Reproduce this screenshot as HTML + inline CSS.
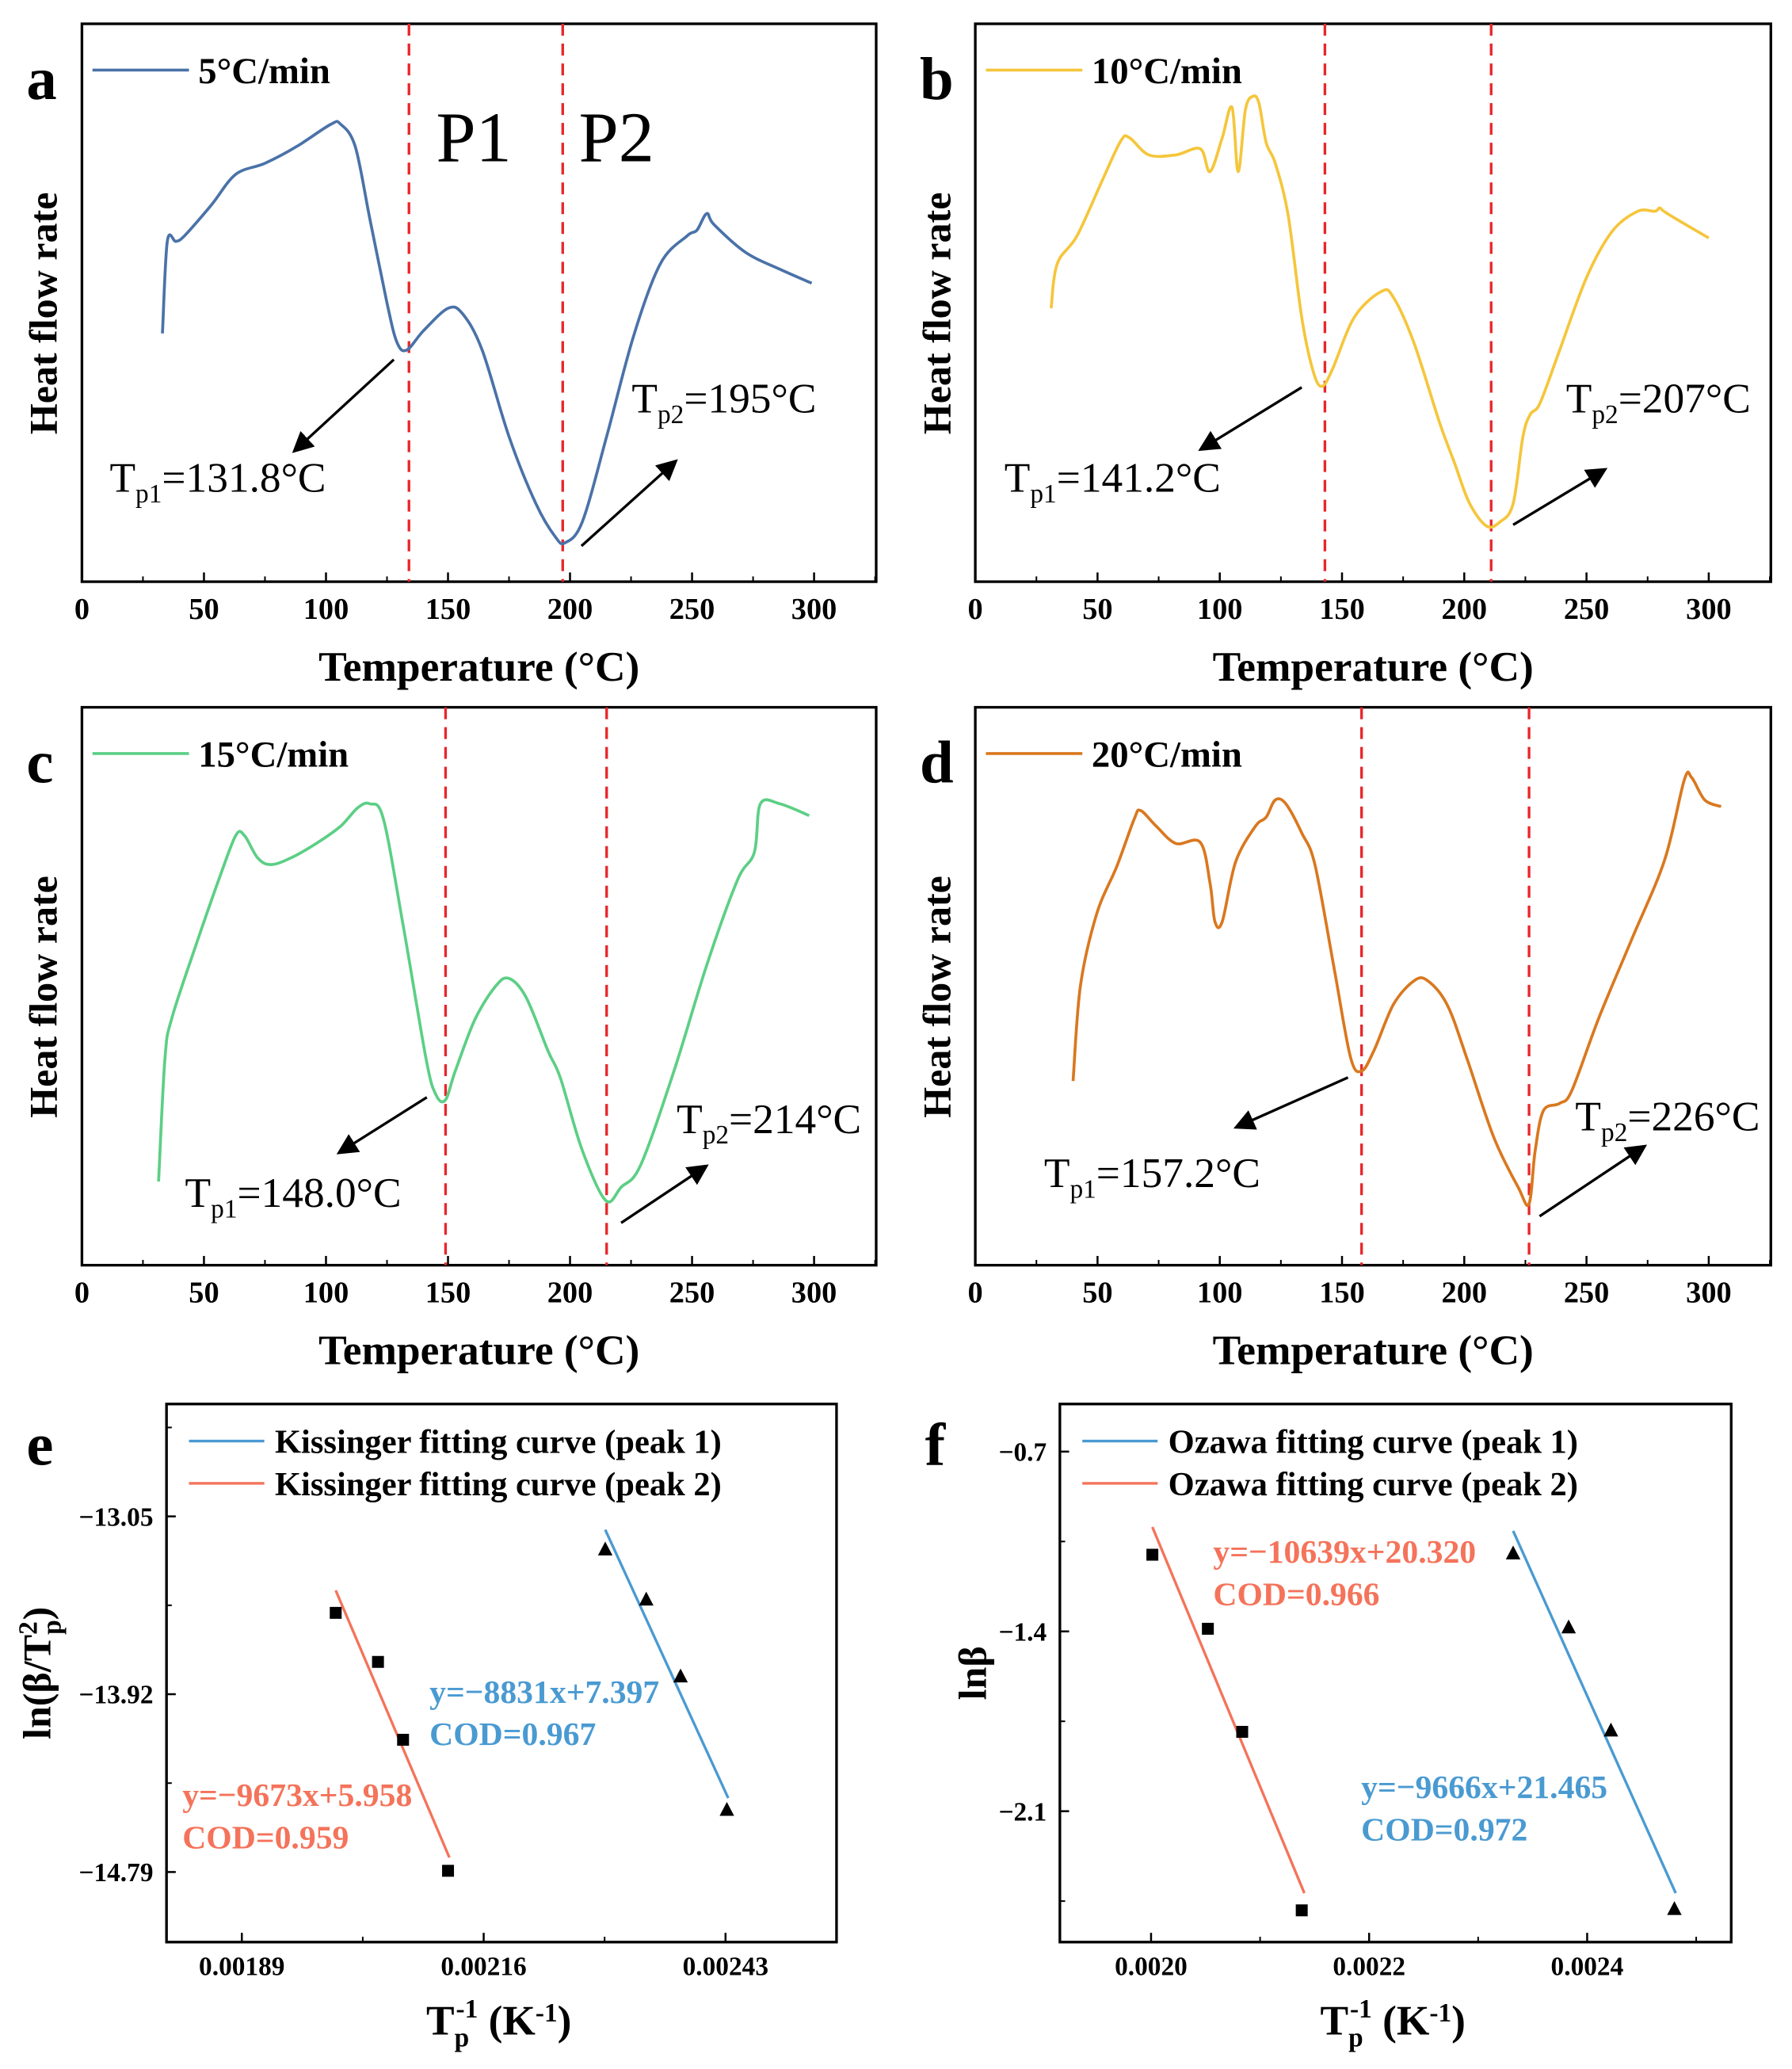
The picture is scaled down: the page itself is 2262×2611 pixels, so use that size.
<!DOCTYPE html>
<html><head><meta charset="utf-8"><style>
html,body{margin:0;padding:0;background:#fff;}
svg{display:block;font-family:"Liberation Serif",serif;}
</style></head><body>
<svg id="fig" width="2262" height="2611" viewBox="0 0 1356 1565" preserveAspectRatio="none" xmlns="http://www.w3.org/2000/svg"></svg>
<script>
// ---- DSC data (temperature °C, heat flow arbitrary 0-100) ----
const aT=[33,35,38.5,42,53,63,75,88,102,106,112,118,125,129,133,140,150,156,164,175,186,194,198,205,215,226,237,248,252,256,259,272,286,299];
const aV=[44.5,61,61,62,67.5,73,75,78,82,82,78,65,50,43,41.5,45,49,48,41.5,26,14,8,7,10.7,26,44,57,62,63,66,64,59,56,53.5];
const bT=[31,33.5,41.6,52,59.5,63,71,82,92,96,101,105,107.5,110.5,113.5,116,119,122.7,128,133.5,138,141.6,146,155,166,171,179.5,190,196,202,209,214.6,220,224,227,231,239,250,260.5,271,278,280,283,300];
const bV=[49,57,62,72,79,79.6,76.5,76.5,77.6,73.5,79.6,85,73.5,84.6,87,85.8,78.7,75,65.6,47.4,38,35,38,47.4,52,51,42.7,28.4,21.3,14.2,10,10.7,14,26,30,32,41.5,54.5,62.8,66.4,66.4,67,66,61.6];
const cT=[31.4,34,37,47.6,56,63,66.6,72,77.4,85.6,96,106,113,118,123.5,131.6,141,145,148.9,153,161,169.5,175,182,191,196,205,214.6,221,229,242.6,256,268.6,275.5,278,286,298];
const cV=[15,37,44.5,58.5,69,77,77,73,71.8,73,75.6,78.7,82,82.7,80,61,37,30.6,29.6,34.8,44,50,51.4,48,38.4,33.6,20.6,11.6,14,18,34.8,53.8,69,74,82.7,82.7,80.6];
const dT=[40,43,49.7,58,65,67.6,74,82,92,96,98,101,106.5,114.6,119,122.7,127,133.5,139,147,153.5,158,163,171,179.5,185,193,201,212,222,226.5,229,232.4,239,244,255,268.6,282,290,293,298.4,305];
const dV=[33,50,63,71.6,80,81.5,78.7,75.6,75.8,68.5,61.6,61.6,72.3,78.7,80.3,83.4,82.7,77.5,71.6,52.6,37.2,34.8,38.4,46.7,51,51,46.7,37.2,23,14,11,20.6,27.7,29,31.3,44.3,58.5,72.7,87,87.4,83.4,82.2];
const tempTicks=[0,50,100,150,200,250,300];
const peaks={a:[134,197],b:[143,211],c:[149,215],d:[158,226.5]};
// ---- Kissinger (e) ----
const eX2=[0.0019948,0.0020420,0.0020700,0.0021202];
const eY2=[-13.522,-13.762,-14.143,-14.784];
const eX1=[0.0022957,0.0023415,0.0023798,0.0024315];
const eY1=[-13.212,-13.457,-13.833,-14.486];
const eFitX2=[0.0019948,0.0021217], eFitY2=[-13.412,-14.719];
const eFitX1=[0.0022957,0.0024330], eFitY1=[-13.115,-14.428];
const eXTicks=["0.00189","0.00216","0.00243"];
const eYTicks=["−13.05","−13.92","−14.79"];
// ---- Ozawa (f) ----
const fX2=[0.0020012,0.0020521,0.0020836,0.0021382];
const fY2=[-1.1015,-1.3897,-1.791,-2.486];
const fX1=[0.0023321,0.002383,0.0024218,0.00248];
const fY1=[-1.0963,-1.3846,-1.786,-2.481];
const fFitX2=[0.0020012,0.0021406], fFitY2=[-0.9934,-2.419];
const fFitX1=[0.0023321,0.0024812], fFitY1=[-1.0088,-2.419];
const fXTicks=["0.0020","0.0022","0.0024"];
const fYTicks=["−0.7","−1.4","−2.1"];

const NS="http://www.w3.org/2000/svg";
const svg=document.getElementById('fig');
function mk(tag,attrs,parent){const e=document.createElementNS(NS,tag);for(const k in attrs)e.setAttribute(k,attrs[k]);(parent||svg).appendChild(e);return e;}
function txt(x,y,s,size,extra,parent){const e=mk('text',Object.assign({x:x,y:y,'font-size':size,'font-weight':'bold',fill:'#000'},extra||{}),parent);e.innerHTML=s;return e;}
function smooth(P){
  let d='M'+P[0][0].toFixed(1)+','+P[0][1].toFixed(1);
  for(let i=0;i<P.length-1;i++){
    const p0=P[Math.max(0,i-1)],p1=P[i],p2=P[i+1],p3=P[Math.min(P.length-1,i+2)];
    const c1=[p1[0]+(p2[0]-p0[0])/6,p1[1]+(p2[1]-p0[1])/6];
    const c2=[p2[0]-(p3[0]-p1[0])/6,p2[1]-(p3[1]-p1[1])/6];
    d+='C'+c1[0].toFixed(1)+','+c1[1].toFixed(1)+' '+c2[0].toFixed(1)+','+c2[1].toFixed(1)+' '+p2[0].toFixed(1)+','+p2[1].toFixed(1);
  }
  return d;
}

function dscPanel(key,L,R,T,B,x0,pxPerDeg,Tarr,Varr,color,legend,p1lab,p2lab,arr1,arr2,lab1,lab2,letter){
  const g=mk('g',{});
  
  
  const xs=t=>x0+t*pxPerDeg;
  const ys=v=>B-v*(B-T)/100;
  const box=mk('rect',{x:L,y:T,width:R-L,height:B-T,fill:'none',stroke:'#000','stroke-width':2},g);
  
  
  tempTicks.forEach((t,i)=>{
    const tk=mk('line',{x1:xs(t),x2:xs(t),y1:B,y2:B-7,stroke:'#000','stroke-width':1.5},g);
    
    
    const mt=mk('line',{x1:xs(t+25),x2:xs(t+25),y1:B,y2:B-4,stroke:'#000','stroke-width':1.2},g);
    
    
    const tl=txt(xs(t),B+28,String(t),23,{'text-anchor':'middle'},g);
    
    
  });
  const xt=txt((L+R)/2,B+75,'Temperature (°C)',32,{'text-anchor':'middle'},g);
  
  
  const yt=txt(0,0,'Heat flow rate',30,{'text-anchor':'middle',transform:`translate(${L-19},${(T+B)/2+8}) rotate(-90)`},g);
  
  
  const lt=txt(L-42,T+57,letter,46,{},g);
  
  
  peaks[key].forEach(p=>{
    const dl=mk('line',{x1:xs(p),x2:xs(p),y1:T,y2:B,stroke:'#e8262a','stroke-width':2,'stroke-dasharray':'9,6'},g);
    
    
  });
  const P=Tarr.map((t,i)=>[xs(t),ys(Varr[i])]);
  const path=mk('path',{d:smooth(P),fill:'none',stroke:color,'stroke-width':2.2,'stroke-linejoin':'round'},g);
  
  
  const ll=mk('line',{x1:L+8,x2:L+81,y1:T+35,y2:T+35,stroke:color,'stroke-width':2.2},g);
  
  
  const lx=txt(L+88,T+45,legend,28,{},g);
  
  
  [arr1,arr2].forEach(a=>{
    const ar=mk('line',{x1:a[0],y1:a[1],x2:a[2],y2:a[3],stroke:'#000','stroke-width':2,'marker-end':'url(#ah)'},g);
    
    
  });
  const t1=txt(lab1[0],lab1[1],'T<tspan font-size="20" dy="8">p1</tspan><tspan dy="-8">='+p1lab+'</tspan>',32,{'font-weight':'normal'},g);
  
  
  const t2=txt(lab2[0],lab2[1],'T<tspan font-size="20" dy="8">p2</tspan><tspan dy="-8">='+p2lab+'</tspan>',32,{'font-weight':'normal'},g);
  
  
  return g;
}
const defs=mk('defs',{});
const mkr=mk('marker',{id:'ah',markerWidth:8,markerHeight:8,refX:6,refY:4,orient:'auto',markerUnits:'strokeWidth'},defs);
mk('path',{d:'M0,0 L8,4 L0,8 z',fill:'#000'},mkr);

const ga=dscPanel('a',62,663,18,440,62,1.8467,aT,aV,'#4a72a8','5°C/min','131.8°C','195°C',[298,272,224,340],[440,413,510,350],[83,372],[478,312],'a');
const P1=txt(330,122,'P1',54,{'font-weight':'normal'},ga);


const P2=txt(438,122,'P2',54,{'font-weight':'normal'},ga);


dscPanel('b',738,1340,18,440,738,1.85,bT,bV,'#f5c63c','10°C/min','141.2°C','207°C',[985,293,910,339],[1145,397,1213,356],[760,372],[1185,312],'b');
dscPanel('c',62,663,535,957,62,1.8467,cT,cV,'#5ccf85','15°C/min','148.0°C','214°C',[323,830,258,871],[470,925,533,883],[140,913],[512,857],'c');
dscPanel('d',738,1340,535,957,738,1.85,dT,dV,'#d9781f','20°C/min','157.2°C','226°C',[1020,815,937,852],[1165,920,1243,868],[790,898],[1192,855],'d');

function fitPanel(key,L,R,T,B,xv0,xp0,xpPer,xvStep,yv0,yp0,ypPer,yvStep,xTicks,yTicks,X1,Y1,X2,Y2,FX1,FY1,FX2,FY2,leg1,leg2,eqs,letter,ylabel){
  const g=mk('g',{});
  
  
  const xs=v=>xp0+(v-xv0)/xvStep*xpPer;
  const ys=v=>yp0+(yv0-v)/yvStep*ypPer;
  const box=mk('rect',{x:L,y:T,width:R-L,height:B-T,fill:'none',stroke:'#000','stroke-width':2},g);
  
  
  for(let i=-1;i<=3;i++){
    const xm=xp0+i*xpPer, xh=xm+xpPer/2;
    if(xm>L&&xm<R){const tk=mk('line',{x1:xm,x2:xm,y1:B,y2:B-7,stroke:'#000','stroke-width':1.5},g);
      
      }
    if(xh>L&&xh<R){const mt=mk('line',{x1:xh,x2:xh,y1:B,y2:B-4,stroke:'#000','stroke-width':1.2},g);
      
      }
    const ym=yp0+i*ypPer, yh=ym+ypPer/2;
    if(ym>T&&ym<B){const tk=mk('line',{x1:L,x2:L+7,y1:ym,y2:ym,stroke:'#000','stroke-width':1.5},g);
      
      }
    if(yh>T&&yh<B){const mt=mk('line',{x1:L,x2:L+4,y1:yh,y2:yh,stroke:'#000','stroke-width':1.2},g);
      
      }
  }
  xTicks.forEach((s,i)=>{const tl=txt(xp0+i*xpPer,B+25,s,20,{'text-anchor':'middle'},g);
    
    });
  yTicks.forEach((s,i)=>{const tl=txt(L-10,yp0+i*ypPer+7,s,20,{'text-anchor':'end'},g);
    
    });
  const xt=txt((L+R)/2-2,B+70,'T<tspan font-size="20" dy="9">p</tspan><tspan font-size="20" dx="-10" dy="-22">-1</tspan><tspan dy="13"> (K</tspan><tspan font-size="20" dy="-10">-1</tspan><tspan dy="10">)</tspan>',32,{'text-anchor':'middle'},g);
  
  
  const yt=txt(0,0,ylabel,30,{'text-anchor':'middle',transform:`translate(${L-(key==='e'?88:56)},${(T+B)/2}) rotate(-90)`},g);
  
  
  const lt=txt(key==='e'?20:700,1108,letter,46,{},g);
  
  
  const fits=[[FX1,FY1,'#4a9ad2'],[FX2,FY2,'#f4735a']];
  fits.forEach(f=>{const fl=mk('line',{x1:xs(f[0][0]),y1:ys(f[1][0]),x2:xs(f[0][1]),y2:ys(f[1][1]),stroke:f[2],'stroke-width':2},g);
    
    });
  X2.forEach((x,i)=>{const sq=mk('rect',{x:xs(x)-4.5,y:ys(Y2[i])-4.5,width:9,height:9,fill:'#000'},g);
    
    });
  X1.forEach((x,i)=>{const cx=xs(x),cy=ys(Y1[i]);const tr=mk('polygon',{points:`${cx},${cy-6} ${cx-5.5},${cy+4.5} ${cx+5.5},${cy+4.5}`,fill:'#000'},g);
    
    });
  [[leg1,'#4a9ad2',T+28],[leg2,'#f4735a',T+60]].forEach(l=>{
    const ll=mk('line',{x1:L+17,x2:L+74,y1:l[2],y2:l[2],stroke:l[1],'stroke-width':2},g);
    
    
    const lx=txt(L+82,l[2]+9,l[0],25.5,{},g);
    
    
  });
  eqs.forEach(q=>{const et=txt(q[0],q[1],q[2],25,{fill:q[3]},g);
    
    });
}
fitPanel('e',126,633,1062,1469,0.00189,183,183,0.00027,-13.05,1147,134.5,0.87,eXTicks,eYTicks,eX1,eY1,eX2,eY2,eFitX1,eFitY1,eFitX2,eFitY2,
 'Kissinger fitting curve (peak 1)','Kissinger fitting curve (peak 2)',
 [[325,1288,'y=−8831x+7.397','#4a9ad2'],[325,1320,'COD=0.967','#4a9ad2'],[138,1366,'y=−9673x+5.958','#f4735a'],[138,1398,'COD=0.959','#f4735a']],
 'e','ln(β/T<tspan font-size="20" dy="-10">2</tspan><tspan font-size="20" dx="-10" dy="18">p</tspan><tspan dy="-8">)</tspan>');
fitPanel('f',802,1310,1062,1469,0.0020,871,165,0.0002,-0.7,1098,136,0.7,fXTicks,fYTicks,fX1,fY1,fX2,fY2,fFitX1,fFitY1,fFitX2,fFitY2,
 'Ozawa fitting curve (peak 1)','Ozawa fitting curve (peak 2)',
 [[918,1182,'y=−10639x+20.320','#f4735a'],[918,1214,'COD=0.966','#f4735a'],[1030,1360,'y=−9666x+21.465','#4a9ad2'],[1030,1392,'COD=0.972','#4a9ad2']],
 'f','lnβ');
</script>
</body></html>
